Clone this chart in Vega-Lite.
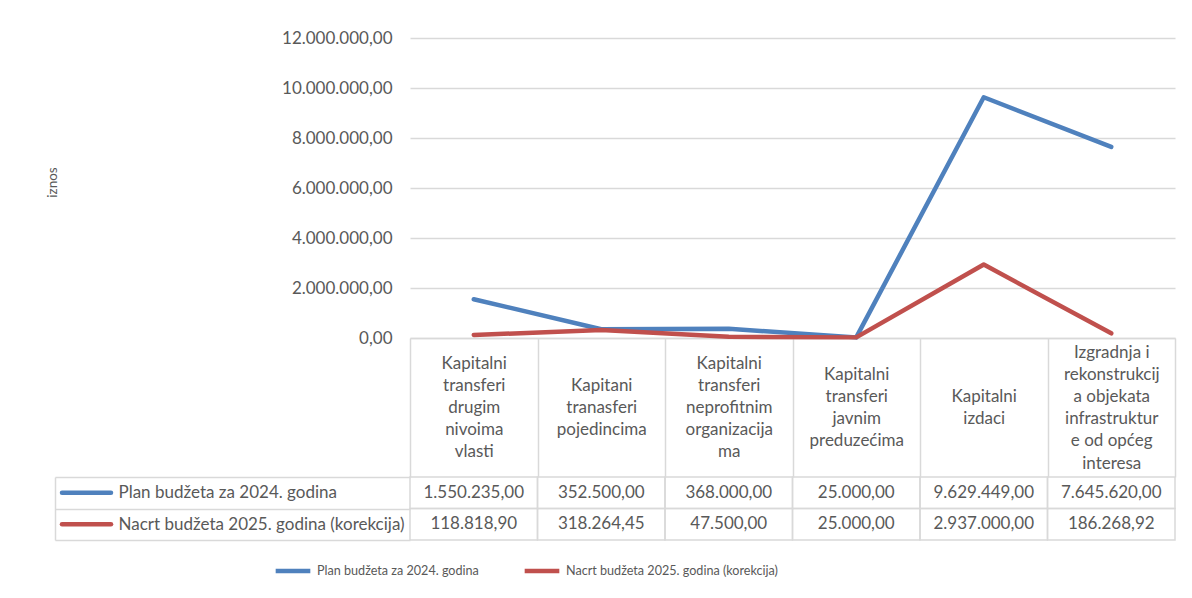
{
  "$schema": "https://vega.github.io/schema/vega-lite/v6.json",
  "width": 765,
  "height": 300,
  "autosize": {"type": "none"},
  "padding": {"left": 410, "top": 38, "right": 17, "bottom": 260},
  "background": "white",
  "config": {
    "view": {"stroke": null},
    "locale": {"number": {"decimal": ",", "thousands": ".", "grouping": [3], "currency": ["", ""]}},
    "font": "Lato"
  },
  "data": {
    "values": [
      {"kat": "Kapitalni transferi drugim nivoima vlasti", "serija": "Plan budžeta za 2024. godina", "iznos": 1550235.00},
      {"kat": "Kapitani tranasferi pojedincima", "serija": "Plan budžeta za 2024. godina", "iznos": 352500.00},
      {"kat": "Kapitalni transferi neprofitnim organizacijama", "serija": "Plan budžeta za 2024. godina", "iznos": 368000.00},
      {"kat": "Kapitalni transferi javnim preduzećima", "serija": "Plan budžeta za 2024. godina", "iznos": 25000.00},
      {"kat": "Kapitalni izdaci", "serija": "Plan budžeta za 2024. godina", "iznos": 9629449.00},
      {"kat": "Izgradnja i rekonstrukcija objekata infrastrukture od općeg interesa", "serija": "Plan budžeta za 2024. godina", "iznos": 7645620.00},
      {"kat": "Kapitalni transferi drugim nivoima vlasti", "serija": "Nacrt budžeta 2025. godina (korekcija)", "iznos": 118818.90},
      {"kat": "Kapitani tranasferi pojedincima", "serija": "Nacrt budžeta 2025. godina (korekcija)", "iznos": 318264.45},
      {"kat": "Kapitalni transferi neprofitnim organizacijama", "serija": "Nacrt budžeta 2025. godina (korekcija)", "iznos": 47500.00},
      {"kat": "Kapitalni transferi javnim preduzećima", "serija": "Nacrt budžeta 2025. godina (korekcija)", "iznos": 25000.00},
      {"kat": "Kapitalni izdaci", "serija": "Nacrt budžeta 2025. godina (korekcija)", "iznos": 2937000.00},
      {"kat": "Izgradnja i rekonstrukcija objekata infrastrukture od općeg interesa", "serija": "Nacrt budžeta 2025. godina (korekcija)", "iznos": 186268.92}
    ]
  },
  "resolve": {"scale": {"x": "independent", "y": "independent"}},
  "layer": [
    {
      "mark": {"type": "line", "strokeWidth": 4.5, "strokeCap": "round", "strokeJoin": "round"},
      "encoding": {
        "x": {
          "field": "kat", "type": "nominal", "bandPosition": 0.5,
          "scale": {"type": "band", "paddingInner": 0, "paddingOuter": 0,
            "domain": ["Kapitalni transferi drugim nivoima vlasti", "Kapitani tranasferi pojedincima", "Kapitalni transferi neprofitnim organizacijama", "Kapitalni transferi javnim preduzećima", "Kapitalni izdaci", "Izgradnja i rekonstrukcija objekata infrastrukture od općeg interesa"]},
          "axis": {
            "orient": "bottom", "title": null,
            "domain": true, "domainColor": "#D9D9D9", "domainWidth": 1.5,
            "ticks": true, "tickBand": "extent", "tickSize": 139, "tickColor": "#D9D9D9", "tickWidth": 1.5,
            "labelAngle": 0, "labelAlign": "center", "labelBaseline": "middle",
            "labelPadding": {
              "condition": [
                {"test": "datum.value === 'Kapitalni izdaci'", "value": -80.6},
                {"test": "datum.value === 'Kapitani tranasferi pojedincima'", "value": -91.7},
                {"test": "datum.value === 'Kapitalni transferi javnim preduzećima'", "value": -102.8},
                {"test": "datum.value === 'Izgradnja i rekonstrukcija objekata infrastrukture od općeg interesa'", "value": -125}
              ],
              "value": -113.9
            },
            "labelFont": "Lato", "labelFontSize": 17, "labelColor": "#595959", "labelLineHeight": 22.2,
            "labelOverlap": false, "labelLimit": 0, "labelFlush": false,
            "labelExpr": "({'Kapitalni transferi drugim nivoima vlasti': ['Kapitalni','transferi','drugim','nivoima','vlasti'], 'Kapitani tranasferi pojedincima': ['Kapitani','tranasferi','pojedincima'], 'Kapitalni transferi neprofitnim organizacijama': ['Kapitalni','transferi','neprofitnim','organizacija','ma'], 'Kapitalni transferi javnim preduzećima': ['Kapitalni','transferi','javnim','preduzećima'], 'Kapitalni izdaci': ['Kapitalni','izdaci'], 'Izgradnja i rekonstrukcija objekata infrastrukture od općeg interesa': ['Izgradnja i','rekonstrukcij','a objekata','infrastruktur','e od općeg','interesa']})[datum.value]"
          }
        },
        "y": {
          "field": "iznos", "type": "quantitative",
          "scale": {"domain": [0, 12000000], "nice": false, "zero": true},
          "axis": {
            "orient": "left", "title": "iznos",
            "titleFont": "Lato", "titleFontSize": 13.5, "titleFontWeight": "normal", "titleColor": "#595959", "titlePadding": 222, "titleY": 144,
            "values": [0, 2000000, 4000000, 6000000, 8000000, 10000000, 12000000],
            "format": ",.2f",
            "domain": false, "ticks": false, "labelPadding": 18,
            "labelFont": "Lato", "labelFontSize": 17, "labelColor": "#595959",
            "grid": true, "gridColor": "#D9D9D9", "gridWidth": 1.5
          }
        },
        "color": {
          "field": "serija", "type": "nominal",
          "scale": {"domain": ["Plan budžeta za 2024. godina", "Nacrt budžeta 2025. godina (korekcija)"], "range": ["#4F81BD", "#C0504D"]},
          "legend": {
            "title": null, "orient": "none", "legendX": -137, "legendY": 513, "direction": "horizontal",
            "symbolType": "stroke", "symbolSize": 1200, "symbolStrokeWidth": 4.5,
            "labelFont": "Lato", "labelFontSize": 12.6, "labelColor": "#595959", "labelOffset": 4,
            "columnPadding": 36, "labelLimit": 0
          }
        }
      }
    },
    {
      "layer": [
        {
          "mark": {"type": "rect", "fillOpacity": 0, "stroke": "#D9D9D9", "strokeWidth": 1.5}
        },
        {
          "mark": {"type": "text", "font": "Lato", "fontSize": 17, "color": "#595959", "baseline": "middle", "align": "center"},
          "encoding": {
            "text": {"field": "iznos", "type": "quantitative", "format": ",.2f"}
          }
        }
      ],
      "encoding": {
        "x": {
          "field": "kat", "type": "nominal",
          "scale": {"type": "band", "paddingInner": 0, "paddingOuter": 0,
            "domain": ["Kapitalni transferi drugim nivoima vlasti", "Kapitani tranasferi pojedincima", "Kapitalni transferi neprofitnim organizacijama", "Kapitalni transferi javnim preduzećima", "Kapitalni izdaci", "Izgradnja i rekonstrukcija objekata infrastrukture od općeg interesa"]},
          "axis": null
        },
        "y": {
          "field": "serija", "type": "nominal",
          "scale": {"type": "band", "domain": ["Plan budžeta za 2024. godina", "Nacrt budžeta 2025. godina (korekcija)"], "range": [439, 502], "paddingInner": 0, "paddingOuter": 0},
          "axis": {
            "orient": "left", "offset": 355, "title": null,
            "domain": true, "domainColor": "#D9D9D9", "domainWidth": 1.5,
            "ticks": true, "tickBand": "extent", "tickSize": -355, "tickColor": "#D9D9D9", "tickWidth": 1.5,
            "labelAlign": "left", "labelBaseline": "middle", "labelPadding": 292,
            "labelFont": "Lato", "labelFontSize": 17, "labelColor": "#595959", "labelLimit": 0,
            "grid": false
          }
        }
      }
    },
    {
      "transform": [{"aggregate": [], "groupby": ["serija"]}],
      "mark": {"type": "rule", "strokeWidth": 4.5, "strokeCap": "round"},
      "encoding": {
        "x": {"datum": 0, "type": "quantitative", "scale": {"domain": [0, 1], "range": [-348, -299]}, "axis": null},
        "x2": {"datum": 1},
        "y": {
          "field": "serija", "type": "nominal",
          "scale": {"type": "point", "domain": ["Plan budžeta za 2024. godina", "Nacrt budžeta 2025. godina (korekcija)"], "range": [439, 502], "padding": 0.5},
          "axis": null
        },
        "color": {"field": "serija", "type": "nominal"}
      }
    }
  ]
}
